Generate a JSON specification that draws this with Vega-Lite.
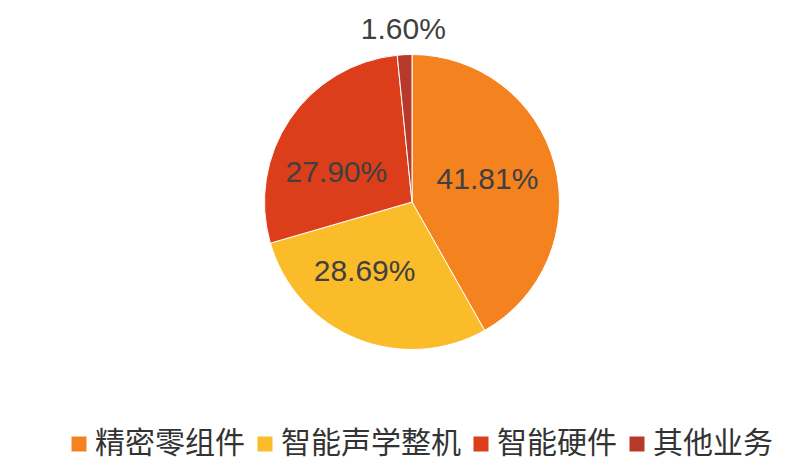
{
  "$schema": "https://vega.github.io/schema/vega-lite/v6.json",
  "width": 776,
  "height": 404,
  "autosize": {"type": "none"},
  "padding": {"left": 24, "top": 0, "right": 0, "bottom": 69},
  "background": "white",
  "config": {"view": {"stroke": null}},
  "data": {
    "values": [
      {"category": "精密零组件", "value": 41.81, "label": "41.81%", "idx": 1},
      {"category": "智能声学整机", "value": 28.69, "label": "28.69%", "idx": 2},
      {"category": "智能硬件", "value": 27.90, "label": "27.90%", "idx": 3},
      {"category": "其他业务", "value": 1.60, "label": "1.60%", "idx": 4}
    ]
  },
  "encoding": {
    "theta": {"field": "value", "type": "quantitative", "stack": true},
    "order": {"field": "idx", "type": "quantitative"}
  },
  "layer": [
    {
      "mark": {"type": "arc", "outerRadius": 147.5, "stroke": "white", "strokeWidth": 1},
      "encoding": {
        "color": {
          "field": "category",
          "type": "nominal",
          "sort": ["精密零组件", "智能声学整机", "智能硬件", "其他业务"],
          "scale": {
            "domain": ["精密零组件", "智能声学整机", "智能硬件", "其他业务"],
            "range": ["#F4821F", "#FBBC2A", "#DC3D1A", "#B6392A"]
          },
          "legend": {
            "orient": "none",
            "legendX": 40,
            "legendY": 429,
            "direction": "horizontal",
            "title": null,
            "labelFont": "Noto Sans CJK SC",
            "labelFontSize": 30,
            "labelColor": "#333333",
            "labelLimit": 400,
            "labelOffset": 1,
            "symbolType": "square",
            "symbolSize": 225,
            "symbolStrokeWidth": 0,
            "columnPadding": 5
          }
        }
      }
    },
    {
      "mark": {"type": "text", "radius": 78, "dy": -2, "font": "Liberation Sans", "fontSize": 30, "fill": "#404040"},
      "encoding": {"text": {"condition": {"test": "datum.idx == 1", "field": "label"}, "value": ""}}
    },
    {
      "mark": {"type": "text", "radius": 78, "dx": -18, "dy": -2, "font": "Liberation Sans", "fontSize": 30, "fill": "#404040"},
      "encoding": {"text": {"condition": {"test": "datum.idx == 2", "field": "label"}, "value": ""}}
    },
    {
      "mark": {"type": "text", "radius": 78, "dx": -11, "dy": 15, "font": "Liberation Sans", "fontSize": 30, "fill": "#404040"},
      "encoding": {"text": {"condition": {"test": "datum.idx == 3", "field": "label"}, "value": ""}}
    },
    {
      "mark": {"type": "text", "radius": 172, "font": "Liberation Sans", "fontSize": 30, "fill": "#404040"},
      "encoding": {"text": {"condition": {"test": "datum.idx == 4", "field": "label"}, "value": ""}}
    }
  ]
}
